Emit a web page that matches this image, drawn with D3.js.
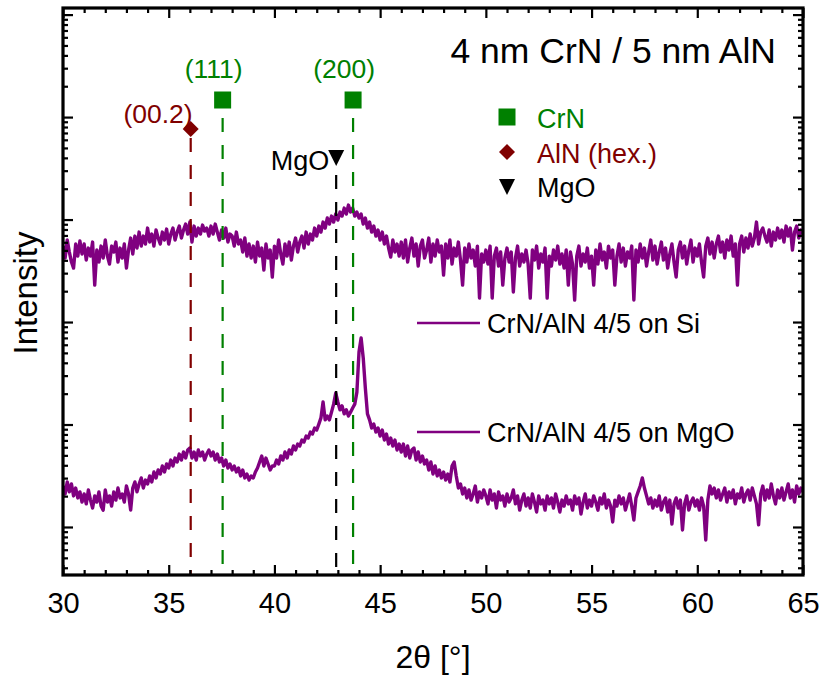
<!DOCTYPE html>
<html>
<head>
<meta charset="utf-8">
<script src="https://cdn.jsdelivr.net/npm/d3@7"></script>
<style>
  body { margin: 0; background: #fff; }
  svg { display: block; }
  text { font-family: "Liberation Sans", Arial, Helvetica, sans-serif; }
</style>
</head>
<body>
<svg id="chart" width="822" height="676"></svg>
<script>
// XRD scans, 2θ from 30° to 65° in 0.1° steps
const thetaStart = 30;
const thetaStep = 0.1;

// CrN/AlN 4/5 on Si (counts)
const intensitySi = [
  5510, 4210, 6310, 4820, 3850, 3360, 5770, 4400, 6170, 4610,
  5770, 4030, 5270, 4400, 6030, 2296, 5040, 3850, 5510, 4210,
  6310, 4400, 3680, 5510, 4820, 6030, 3850, 5270, 4210, 5770,
  3360, 5040, 6600, 4610, 6900, 5270, 7550, 5510, 6900, 5770,
  8260, 6030, 7220, 5510, 7900, 6600, 5770, 7550, 6310, 8080,
  5770, 7220, 8260, 6310, 7550, 8640, 6600, 7900, 9040, 7220,
  9450, 6030, 8640, 6900, 8260, 7220, 8830, 7720, 8260, 6900,
  8640, 7220, 9040, 7550, 6310, 7900, 6600, 8260, 6030, 7220,
  6900, 5510, 7550, 5770, 6310, 4820, 6600, 4400, 5770, 4210,
  5510, 3850, 6030, 4400, 5270, 3215, 5770, 4210, 5040, 2750,
  5510, 4210, 6310, 4610, 3680, 5770, 4400, 6030, 4030, 5510,
  6600, 4820, 6030, 6900, 5270, 7550, 5770, 7220, 6310, 8260,
  6900, 8640, 7550, 9450, 8260, 10350, 9040, 10810, 9450, 11320,
  9890, 11830, 10810, 12940, 11320, 13850, 11830, 12940, 10810, 11830,
  10350, 11320, 9040, 10350, 8260, 9450, 7550, 8640, 6900, 7900,
  6310, 7550, 5770, 6900, 5270, 4300, 6310, 4820, 5770, 4400,
  6030, 4210, 6310, 3850, 5270, 6600, 4400, 5770, 3520, 5510,
  6310, 4210, 5040, 6600, 3850, 5770, 4400, 6310, 4820, 5510,
  2875, 5770, 4210, 6310, 3680, 5270, 4400, 6030, 4030, 2296,
  5270, 3850, 5770, 4210, 5040, 3520, 5510, 1714, 4610, 3850,
  5040, 3680, 5510, 1714, 4400, 5270, 3520, 4820, 2296, 4210,
  5270, 3850, 4820, 1963, 4210, 5510, 3520, 4610, 3850, 5040,
  3680, 1714, 5040, 4030, 5510, 3360, 4610, 3850, 5270, 1714,
  4400, 3520, 5040, 4030, 5510, 3680, 4610, 3360, 5040, 2296,
  4820, 3680, 1639, 4400, 5510, 3520, 4610, 3850, 5270, 3360,
  4400, 2296, 5040, 3680, 5770, 4030, 4820, 3360, 5510, 4210,
  5040, 2296, 4400, 5770, 3850, 5270, 3520, 4820, 4210, 5510,
  1639, 5040, 3850, 5770, 4210, 5270, 3520, 4820, 6310, 4030,
  5510, 3680, 4820, 6030, 4030, 5270, 3360, 4610, 5770, 3850,
  2750, 5040, 6030, 4210, 5510, 3680, 5040, 6310, 3850, 5270,
  4400, 5770, 3850, 2750, 5510, 6600, 4610, 6030, 4210, 5770,
  6900, 4820, 6030, 4210, 6310, 5040, 6900, 4400, 5770, 2296,
  5770, 6900, 4820, 6600, 5270, 7220, 5510, 6600, 9450, 5770,
  7550, 8260, 6900, 6030, 7900, 5510, 7550, 6310, 8260, 6600,
  7900, 6030, 8640, 6900, 8260, 5040, 7550, 8640, 6600, 7900, 7220
];

// CrN/AlN 4/5 on MgO (counts)
const intensityMgO = [
  25.1, 21.0, 27.5, 22.0, 26.3, 20.1, 24.0, 19.2, 22.0, 17.5,
  21.0, 16.8, 23.0, 18.3, 15.3, 20.1, 17.5, 22.0, 16.0, 14.6,
  23.0, 17.5, 20.1, 16.0, 22.0, 18.3, 24.0, 19.2, 21.0, 17.5,
  25.1, 21.0, 14.6, 24.0, 27.5, 22.0, 26.3, 30.1, 24.0, 28.7,
  26.3, 31.5, 27.5, 34.4, 30.1, 36.0, 32.9, 39.4, 34.4, 41.2,
  37.6, 45.0, 39.4, 47.1, 43.1, 51.5, 45.0, 53.9, 47.1, 56.4,
  59.0, 47.1, 53.9, 45.0, 56.4, 49.3, 53.9, 45.0, 51.5, 56.4,
  49.3, 53.9, 45.0, 51.5, 43.1, 47.1, 39.4, 45.0, 37.6, 41.2,
  36.0, 39.4, 34.4, 37.6, 31.5, 36.0, 30.1, 32.9, 28.7, 31.5,
  30.1, 34.4, 37.6, 43.1, 49.3, 39.4, 47.1, 41.2, 36.0, 39.4,
  39.4, 45.0, 41.2, 49.3, 45.0, 53.9, 47.1, 56.4, 51.5, 61.7,
  56.4, 64.5, 61.7, 70.6, 67.5, 77.2, 73.8, 84.5, 80.8, 92.4,
  88.4, 101, 116, 166, 111, 121, 111, 132, 158, 203,
  166, 139, 152, 127, 139, 121, 132, 145, 158, 207,
  509, 698, 446, 227, 127, 111, 92.4, 101, 84.5, 92.4,
  77.2, 88.4, 70.6, 80.8, 64.5, 73.8, 61.7, 70.6, 56.4, 64.5,
  53.9, 64.5, 49.3, 61.7, 47.1, 56.4, 59.0, 45.0, 53.9, 43.1,
  49.3, 41.2, 45.0, 36.0, 43.1, 32.9, 39.4, 31.5, 36.0, 30.1,
  34.4, 28.7, 32.9, 27.5, 39.4, 43.1, 31.5, 24.0, 26.3, 21.0,
  24.0, 19.2, 23.0, 18.3, 21.0, 25.1, 17.5, 22.0, 19.2, 23.0,
  20.1, 16.8, 23.0, 18.3, 21.0, 15.3, 22.0, 18.3, 20.1, 16.0,
  21.0, 17.5, 19.2, 23.0, 16.8, 20.1, 14.6, 18.3, 21.0, 16.0,
  19.2, 15.3, 21.0, 17.5, 14.0, 20.1, 16.8, 18.3, 14.6, 20.1,
  16.8, 19.2, 15.3, 21.0, 17.5, 14.0, 18.3, 16.0, 20.1, 16.8,
  18.3, 14.6, 20.1, 16.8, 19.2, 13.4, 17.5, 21.0, 15.3, 18.3,
  16.0, 20.1, 17.5, 14.6, 19.2, 16.8, 21.0, 15.3, 18.3, 16.0,
  11.2, 18.3, 16.0, 20.1, 16.8, 19.2, 14.6, 17.5, 21.0, 16.0,
  11.7, 19.2, 22.0, 25.1, 30.1, 24.0, 20.1, 16.8, 19.2, 15.3,
  18.3, 16.0, 20.1, 14.6, 17.5, 19.2, 14.0, 18.3, 10.7, 16.8,
  19.2, 15.3, 18.3, 9.35, 16.8, 20.1, 14.6, 17.5, 19.2, 16.0,
  18.3, 14.6, 19.2, 16.0, 7.47, 18.3, 25.1, 21.0, 24.0, 19.2,
  23.0, 18.3, 21.0, 24.0, 17.5, 22.0, 19.2, 23.0, 16.8, 21.0,
  19.2, 24.0, 17.5, 21.0, 23.0, 18.3, 24.0, 20.1, 16.8, 10.5,
  21.0, 25.1, 18.3, 23.0, 19.2, 26.3, 20.1, 16.8, 23.0, 19.2,
  24.0, 18.3, 22.0, 26.3, 19.2, 23.0, 17.5, 25.1, 21.0, 24.0, 22.0
];

const seriesNames = ["CrN/AlN 4/5 on Si", "CrN/AlN 4/5 on MgO"];
const xDomain = [30, 65];
const yDomain = [3.4, 1.16e6];
const xMajorTicks = [30, 35, 40, 45, 50, 55, 60, 65];
const yDecades = [1e1, 1e2, 1e3, 1e4, 1e5, 1e6];

// reference reflections (2θ in degrees)
const refPhases = ["CrN", "CrN", "AlN (hex.)", "MgO"];
const refLabels = ["(111)", "(200)", "(00.2)", "MgO"];
const refTheta = [37.55, 43.72, 36.04, 42.92];
const legendPhases = ["CrN", "AlN (hex.)", "MgO"];

const chartTitle = "4 nm CrN / 5 nm AlN";
const xTitle = "2θ [°]";
const yTitle = "Intensity";

// ---------------------------------------------------------------
const svg = d3.select("#chart");
const plotL = 63, plotR = 803, plotT = 8, plotB = 575;
const purple = "#800080", green = "#008000", darkRed = "#800000";
const phaseColor = { "CrN": green, "AlN (hex.)": darkRed, "MgO": "#000" };

const x = d3.scaleLinear().domain(xDomain).range([plotL, plotR]);
const y = d3.scaleLog().domain(yDomain).range([plotB, plotT]);

const twoTheta = intensitySi.map((_, i) => thetaStart + i * thetaStep);

svg.append("defs").append("clipPath").attr("id", "plotClip")
  .append("rect").attr("x", plotL).attr("y", plotT)
  .attr("width", plotR - plotL).attr("height", plotB - plotT);

// traces
const line = d3.line().x(d => x(d[0])).y(d => y(d[1]));
const traces = [intensitySi, intensityMgO];
svg.append("g").attr("clip-path", "url(#plotClip)")
  .selectAll("path").data(traces).join("path")
  .attr("d", vals => line(vals.map((v, i) => [twoTheta[i], v])))
  .attr("fill", "none").attr("stroke", purple)
  .attr("stroke-width", 3.4).attr("stroke-linejoin", "round");

// reference lines, markers and labels
const markerY = { "CrN": 100, "AlN (hex.)": 129, "MgO": 157 };
const lineStart = { "CrN": 118, "AlN (hex.)": 138, "MgO": 175 };

function drawMarker(g, phase, cx, cy) {
  const col = phaseColor[phase];
  if (phase === "CrN") {
    g.append("rect").attr("x", cx - 8.5).attr("y", cy - 8.5)
      .attr("width", 17).attr("height", 17).attr("fill", col);
  } else if (phase === "AlN (hex.)") {
    g.append("path").attr("d", `M${cx},${cy - 8}L${cx + 8},${cy}L${cx},${cy + 8}L${cx - 8},${cy}Z`)
      .attr("fill", col);
  } else {
    g.append("path").attr("d", `M${cx - 8},${cy - 7}L${cx + 8},${cy - 7}L${cx},${cy + 9}Z`)
      .attr("fill", col);
  }
}

const refG = svg.append("g");
refTheta.forEach((t, i) => {
  const ph = refPhases[i];
  const px = x(t);
  refG.append("line")
    .attr("x1", px).attr("x2", px)
    .attr("y1", lineStart[ph]).attr("y2", plotB)
    .attr("stroke", phaseColor[ph]).attr("stroke-width", 2.2)
    .attr("stroke-dasharray", "14,13");
  drawMarker(refG, ph, px, markerY[ph]);
});

const labelG = svg.append("g").attr("font-size", 26.5);
refTheta.forEach((t, i) => {
  const ph = refPhases[i];
  const px = x(t);
  const txt = labelG.append("text").attr("fill", phaseColor[ph]).text(refLabels[i]);
  if (ph === "CrN") {
    txt.attr("x", px - 9).attr("y", 78).attr("text-anchor", "middle");
  } else if (ph === "AlN (hex.)") {
    txt.attr("x", px + 2).attr("y", 123).attr("text-anchor", "end");
  } else {
    txt.attr("x", px - 7).attr("y", 170).attr("text-anchor", "end").attr("font-size", 27);
  }
});

// title
svg.append("text").attr("x", 776).attr("y", 63).attr("text-anchor", "end")
  .attr("font-size", 35.5).attr("fill", "#000").text(chartTitle);

// phase legend
const legY = [117, 152, 186];
const legTextY = [128, 163, 197];
legendPhases.forEach((ph, i) => {
  drawMarker(svg, ph, 507, legY[i]);
  svg.append("text").attr("x", 537).attr("y", legTextY[i])
    .attr("font-size", 27).attr("fill", phaseColor[ph]).text(ph);
});

// series legend
const serY = [323, 432];
seriesNames.forEach((name, i) => {
  svg.append("line").attr("x1", 417).attr("x2", 480)
    .attr("y1", serY[i]).attr("y2", serY[i])
    .attr("stroke", purple).attr("stroke-width", 2.5);
  svg.append("text").attr("x", 487).attr("y", serY[i] + 10)
    .attr("font-size", 27).attr("fill", "#000").text(name);
});

// axes (ticks pointing inward on all four sides)
const xMinor = d3.range(xDomain[0], xDomain[1] + 0.001, 1).filter(v => !xMajorTicks.includes(v));
const yMinor = [];
[1].concat(yDecades).forEach(d => {
  for (let k = 2; k <= 9; k++) {
    const v = d * k;
    if (v > yDomain[0] && v < yDomain[1]) yMinor.push(v);
  }
});

function styleAxis(g) {
  g.select(".domain").remove();
  g.selectAll(".tick line").attr("stroke", "#000").attr("stroke-width", 2.2);
}

svg.append("g").attr("transform", `translate(0,${plotB})`)
  .call(d3.axisBottom(x).tickValues(xMajorTicks).tickSize(-10).tickPadding(17).tickFormat(d3.format("d")))
  .call(styleAxis)
  .call(g => g.selectAll("text").attr("font-size", 29).attr("fill", "#000")
    .attr("font-family", "'Liberation Sans', Arial, sans-serif"));
svg.append("g").attr("transform", `translate(0,${plotB})`)
  .call(d3.axisBottom(x).tickValues(xMinor).tickSize(-5).tickFormat(""))
  .call(styleAxis);
svg.append("g").attr("transform", `translate(0,${plotT})`)
  .call(d3.axisTop(x).tickValues(xMajorTicks).tickSize(-10).tickFormat(""))
  .call(styleAxis);
svg.append("g").attr("transform", `translate(0,${plotT})`)
  .call(d3.axisTop(x).tickValues(xMinor).tickSize(-5).tickFormat(""))
  .call(styleAxis);

const yMajorIn = yDecades.filter(v => v >= yDomain[0] && v <= yDomain[1]);
svg.append("g").attr("transform", `translate(${plotL},0)`)
  .call(d3.axisLeft(y).tickValues(yMajorIn).tickSize(-10).tickFormat(""))
  .call(styleAxis);
svg.append("g").attr("transform", `translate(${plotL},0)`)
  .call(d3.axisLeft(y).tickValues(yMinor).tickSize(-5).tickFormat(""))
  .call(styleAxis);
svg.append("g").attr("transform", `translate(${plotR},0)`)
  .call(d3.axisRight(y).tickValues(yMajorIn).tickSize(-10).tickFormat(""))
  .call(styleAxis);
svg.append("g").attr("transform", `translate(${plotR},0)`)
  .call(d3.axisRight(y).tickValues(yMinor).tickSize(-5).tickFormat(""))
  .call(styleAxis);

// frame
svg.append("rect").attr("x", plotL).attr("y", plotT)
  .attr("width", plotR - plotL).attr("height", plotB - plotT)
  .attr("fill", "none").attr("stroke", "#000").attr("stroke-width", 3.2);

// axis titles
svg.append("text").attr("x", (plotL + plotR) / 2).attr("y", 668)
  .attr("text-anchor", "middle").attr("font-size", 32).attr("fill", "#000").text(xTitle);
svg.append("text").attr("transform", "translate(37,293) rotate(-90)")
  .attr("text-anchor", "middle").attr("font-size", 33).attr("fill", "#000").text(yTitle);
</script>
</body>
</html>
